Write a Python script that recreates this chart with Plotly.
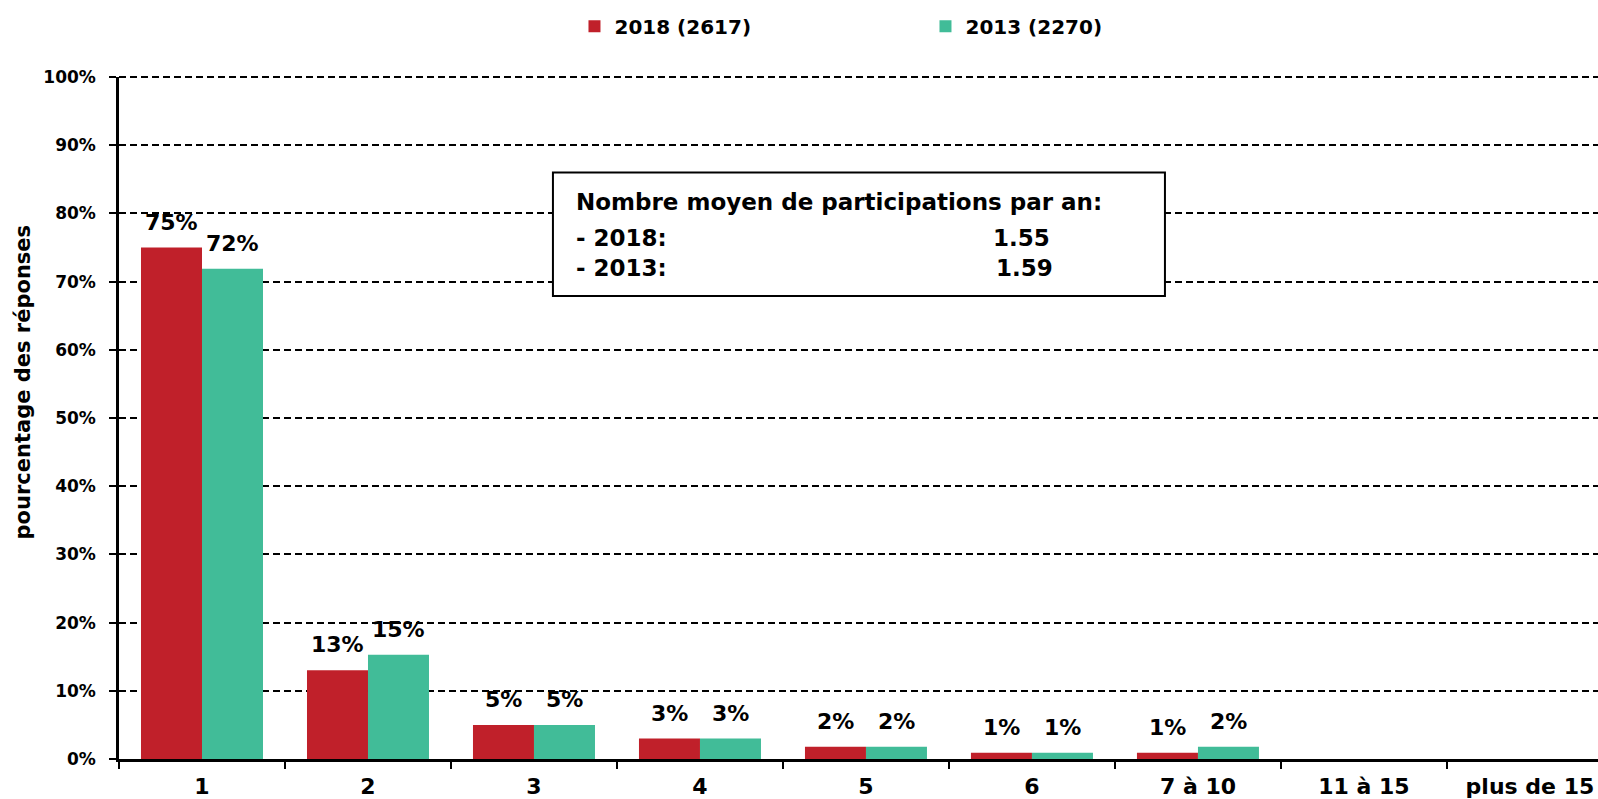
import plotly.graph_objects as go

categories = ["1", "2", "3", "4", "5", "6", "7 à 10", "11 à 15", "plus de 15"]
values_2018 = [75.0, 13.0, 5.0, 3.0, 1.8, 0.9, 0.9, 0, 0]
values_2013 = [71.9, 15.3, 5.0, 3.0, 1.8, 0.9, 1.8, 0, 0]
series_names = ["2018 (2617)", "2013 (2270)"]
y_ticks = list(range(0, 101, 10))
box_lines = ["Nombre moyen de participations par an:", "- 2018:", "- 2013:"]
box_values = ["1.55", "1.59"]

RED = "#C0202A"
TEAL = "#41BC98"
FONT = "DejaVu Sans"

fig = go.Figure()
fig.add_trace(go.Bar(x=categories, y=values_2018, name=series_names[0],
                     marker=dict(color=RED, line=dict(width=0))))
fig.add_trace(go.Bar(x=categories, y=values_2013, name=series_names[1],
                     marker=dict(color=TEAL, line=dict(width=0))))

# data labels (x given as category index on the category axis)
for vals, shift in ((values_2018, -30.5), (values_2013, 30.5)):
    for i, v in enumerate(vals):
        if v > 0:
            fig.add_annotation(x=i, y=v, xref="x", yref="y", text=f"{round(v)}%",
                               showarrow=False, xshift=shift, yshift=11,
                               yanchor="bottom", xanchor="center",
                               font=dict(family=FONT, size=22, color="black", weight="bold"))

# top (100%) gridline at the top edge of the plot area (plotly omits it at the range edge)
fig.add_shape(type="line", xref="paper", yref="paper", x0=0, x1=1, y0=1, y1=1,
              line=dict(color="black", width=2, dash="7px,4px"), layer="below")

# info box
fig.add_shape(type="rect", xref="paper", yref="paper", x0=0.2934, x1=0.7072,
              y0=0.679, y1=0.860, fillcolor="white",
              line=dict(color="black", width=2), layer="above")
for txt, yy in zip(box_lines, [0.8173, 0.7637, 0.7205]):
    fig.add_annotation(x=0.3076, y=yy, xref="paper", yref="paper", text=txt,
                       showarrow=False, xanchor="left", yanchor="middle",
                       font=dict(family=FONT, size=23, color="black", weight="bold"))
for txt, yy, xx in zip(box_values, [0.7637, 0.7205], [0.5896, 0.5916]):
    fig.add_annotation(x=xx, y=yy, xref="paper", yref="paper", text=txt,
                       showarrow=False, xanchor="left", yanchor="middle",
                       font=dict(family=FONT, size=23, color="black", weight="bold"))

# y axis title
fig.add_annotation(x=-0.0652, y=0.553, xref="paper", yref="paper",
                   text="pourcentage des réponses", textangle=-90, showarrow=False,
                   xanchor="center", yanchor="middle",
                   font=dict(family=FONT, size=21, color="black", weight="bold"))

fig.update_layout(
    width=1598, height=799, autosize=False,
    margin=dict(l=119, r=0, t=77, b=40),
    paper_bgcolor="white", plot_bgcolor="white",
    barmode="group", bargap=0.265, bargroupgap=0,
    font=dict(family=FONT, color="black"),
    legend=dict(orientation="h", xref="container", yref="container",
                x=0.3595, y=0.967, xanchor="left", yanchor="middle",
                entrywidth=306, entrywidthmode="pixels",
                font=dict(family=FONT, size=20, color="black", weight="bold"),
                itemwidth=30, bgcolor="rgba(0,0,0,0)"),
    xaxis=dict(type="category", range=[-0.5, 8.41], showline=True, linecolor="black",
               linewidth=2.5, ticks="outside", tickson="boundaries", ticklen=7,
               tickwidth=2, tickcolor="black", showgrid=False, ticklabelstandoff=6,
               tickfont=dict(family=FONT, size=22, color="black", weight="bold")),
    yaxis=dict(range=[0, 100], tickvals=y_ticks, ticktext=[f"{t}%" for t in y_ticks],
               showline=True, linecolor="black", linewidth=2.5, ticks="outside",
               ticklen=7, tickwidth=2, tickcolor="black", zeroline=False,
               showgrid=True, gridcolor="black", gridwidth=2, griddash="7px,4px",
               ticklabelstandoff=10,
               tickfont=dict(family=FONT, size=17, color="black", weight="bold")),
)

fig.write_html("out.html", config={"displayModeBar": False},
               post_script="document.body.style.margin='0';")
